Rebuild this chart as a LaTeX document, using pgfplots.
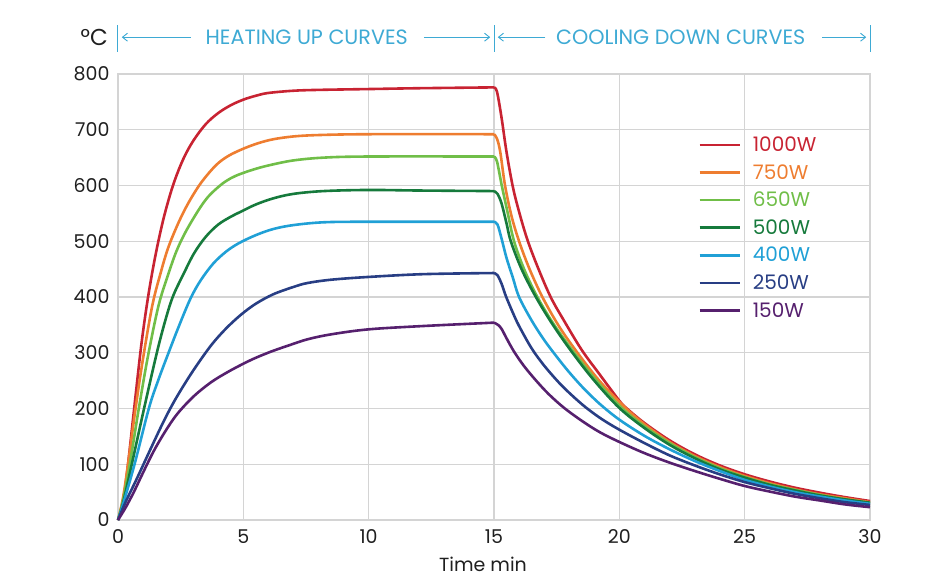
\documentclass[border=0pt]{standalone}
\usepackage{fontspec}
\setmainfont{Poppins}
\usepackage{pgfplots}
\pgfplotsset{compat=1.18}
\usetikzlibrary{arrows.meta}
\definecolor{gridc}{RGB}{212,212,212}
\definecolor{hdr}{RGB}{62,170,212}
\definecolor{cA}{RGB}{200,35,50}
\definecolor{cB}{RGB}{238,125,48}
\definecolor{cC}{RGB}{112,190,72}
\definecolor{cD}{RGB}{22,122,60}
\definecolor{cE}{RGB}{32,160,214}
\definecolor{cF}{RGB}{40,62,132}
\definecolor{cG}{RGB}{86,32,110}
\begin{document}
\begin{tikzpicture}[x=1pt,y=1pt]
\path[use as bounding box] (-118,-62) rectangle (824,520);
\begin{axis}[
  at={(0,0)}, anchor=south west,
  scale only axis, width=752pt, height=446pt,
  xmin=0, xmax=30, ymin=0, ymax=800,
  xtick={0,5,...,30}, ytick={0,100,...,800},
  grid=major, major grid style={gridc, line width=1.3pt},
  axis line style={gridc, line width=1.3pt},
  tick style={draw=none},
  ticklabel style={font=\fontsize{19}{19}\selectfont, text=black!88},
  yticklabel style={xshift=-5pt},
  xticklabel style={yshift=-6pt},
  /pgf/number format/assume math mode=true,
  xlabel={Time min},
  xlabel style={font=\fontsize{19}{19}\selectfont, text=black!88, at={(rel axis cs:0.5,0)}, anchor=center, yshift=-44pt, xshift=-11pt},
  clip=false,
  every axis plot/.append style={line width=2.6pt, smooth, tension=0.55, line join=round},
  legend cell align=left,
  legend image code/.code={\draw[line width=2.6pt] (0pt,0pt) -- (40pt,0pt);},
  legend style={draw=none, fill=none, at={(axis cs:23.02,695)}, anchor=north west,
    font=\fontsize{20}{20}\selectfont, row sep=7.4pt, column sep=10pt},
]
% ---- heating (legend) ----
\addplot[cA] coordinates {(0,0)(0.2,30)(0.4,100)(0.65,202)(0.93,314)(1.2,400)(1.5,476)(1.83,543)(2.2,601)(2.6,647)(3.0,680)(3.5,710)(4.0,730)(4.5,744)(5.0,754)(5.5,761)(6.0,766)(7,770)(8,771.5)(10,773)(12,774.5)(15,776)};
\addlegendentry{\textcolor{cA}{1000W}}
\addplot[cB] coordinates {(0,0)(0.2,40)(0.4,100)(0.7,200)(1.0,290)(1.37,385)(1.7,443)(2.0,488)(2.4,532)(2.8,568)(3.3,604)(3.9,636)(4.4,653)(5.0,666)(5.6,676)(6.2,683)(7.0,688)(8,690.5)(10,692)(15,692)};
\addlegendentry{\textcolor{cB}{750W}}
\addplot[cC] coordinates {(0,0)(0.2,35)(0.47,100)(0.83,200)(1.2,295)(1.62,385)(2.0,440)(2.33,482)(2.7,517)(3.2,555)(3.6,580)(4.1,601)(4.5,613)(4.9,621)(5.5,630)(6.1,637)(7,645)(8.2,650)(10,652)(15,652)};
\addlegendentry{\textcolor{cC}{650W}}
\addplot[cD] coordinates {(0,0)(0.2,30)(0.55,100)(1.04,200)(1.55,300)(1.9,360)(2.2,402)(2.6,440)(3.03,478)(3.5,508)(4.0,530)(4.5,544)(4.9,553)(5.5,566)(6.2,577)(7,585)(8.2,590)(10,592)(12,591)(15,590)};
\addlegendentry{\textcolor{cD}{500W}}
\addplot[cE] coordinates {(0,0)(0.2,28)(0.66,100)(1.23,200)(1.6,250)(2.0,298)(2.45,350)(2.9,398)(3.3,430)(3.8,460)(4.3,481)(4.8,496)(5.5,511)(6.2,522)(7,529)(8.2,534)(10,535)(15,535)};
\addlegendentry{\textcolor{cE}{400W}}
\addplot[cF] coordinates {(0,0)(0.3,32)(0.76,75)(1.43,140)(1.9,184)(2.36,222)(3.0,268)(3.71,313)(4.3,343)(4.9,368)(5.5,388)(6.2,405)(7,418)(7.55,425)(8.5,431)(10,436)(12.2,441)(15,443)};
\addlegendentry{\textcolor{cF}{250W}}
\addplot[cG] coordinates {(0,0)(0.3,22)(0.63,50)(1.0,85)(1.43,124)(1.9,160)(2.36,190)(3.0,221)(3.71,247)(4.4,266)(5.03,281)(5.5,291)(6.1,302)(6.8,313)(7.55,324)(8.5,333)(10,342)(12.2,348)(15,354)};
\addlegendentry{\textcolor{cG}{150W}}
% ---- cooling ----
\addplot[cA, forget plot] coordinates {(15,776)(15.12,768)(15.3,722)(15.5,660)(15.75,598)(16.0,553)(16.33,503)(16.75,453)(17.26,400)(17.8,357)(18.5,305)(19.2,262)(20,214)(20.3,200)(21,174)(22,143)(23,118)(24,98)(25,82)(26,69)(27,58)(28,49)(29,41)(30,34)};
\addplot[cB, forget plot] coordinates {(15,692)(15.12,684)(15.25,660)(15.44,600)(15.7,545)(16.0,500)(16.4,452)(16.93,400)(17.6,347)(18.33,300)(19.2,250)(20.2,203)(21,172)(22,140)(23,115)(24,95)(25,79)(26,66)(27,55)(28,46)(29,39)(30,32)};
\addplot[cC, forget plot] coordinates {(15,652)(15.12,643)(15.31,600)(15.55,550)(15.8,500)(16.2,450)(16.73,400)(17.4,350)(18.2,300)(19.05,252)(20.05,203)(21,168)(22,138)(23,113)(24,93)(25,77)(26,64)(27,54)(28,45)(29,37)(30,31)};
\addplot[cD, forget plot] coordinates {(15,590)(15.14,585)(15.3,568)(15.5,532)(15.67,500)(16.1,450)(16.67,400)(17.35,350)(18.13,300)(19.0,250)(20.0,201)(21,165)(22,135)(23,111)(24,91)(25,76)(26,63)(27,53)(28,44)(29,37)(30,31)};
\addplot[cE, forget plot] coordinates {(15,535)(15.14,530)(15.3,505)(15.5,470)(15.75,435)(16.0,400)(16.5,358)(17.0,323)(17.5,293)(18.0,265)(18.6,235)(19.25,207)(20,180)(21,151)(22,127)(23,106)(24,88)(25,72)(26,60)(27,50)(28,42)(29,35)(30,29)};
\addplot[cF, forget plot] coordinates {(15,443)(15.14,439)(15.3,424)(15.47,402)(15.75,372)(16.0,348)(16.5,308)(17.0,277)(17.6,246)(18.1,224)(18.66,202)(19.3,181)(20,162)(21,138)(22,116)(23,98)(24,82)(25,68)(26,57)(27,47)(28,39)(29,32)(30,27)};
\addplot[cG, forget plot] coordinates {(15,354)(15.16,350)(15.3,343)(15.5,326)(15.8,302)(16.2,276)(16.7,249)(17.2,225)(17.8,201)(18.5,178)(19.2,158)(20,140)(21,120)(22,103)(23,88)(24,74)(25,61)(26,51)(27,42)(28,35)(29,28)(30,23)};
% header annotations
\node[font=\fontsize{23}{23}\selectfont, text=black!88] at (axis cs:-0.95,865) {°C};
\draw[hdr, line width=1pt] (axis cs:0,840) -- (axis cs:0,888);
\draw[hdr, line width=1pt] (axis cs:15,840) -- (axis cs:15,888);
\draw[hdr, line width=1pt] (axis cs:30,840) -- (axis cs:30,888);
\draw[hdr, line width=0.9pt, -{Straight Barb[length=5pt,width=8pt]}] (axis cs:2.9,866) -- (axis cs:0.15,866);
\draw[hdr, line width=0.9pt, -{Straight Barb[length=5pt,width=8pt]}] (axis cs:12.2,866) -- (axis cs:14.85,866);
\draw[hdr, line width=0.9pt, -{Straight Barb[length=5pt,width=8pt]}] (axis cs:17.05,866) -- (axis cs:15.15,866);
\draw[hdr, line width=0.9pt, -{Straight Barb[length=5pt,width=8pt]}] (axis cs:28.1,866) -- (axis cs:29.85,866);
\node[font=\fontsize{20.7}{20.7}\selectfont, text=hdr] at (axis cs:7.53,866) {HEATING UP CURVES};
\node[font=\fontsize{20.7}{20.7}\selectfont, text=hdr] at (axis cs:22.45,866) {COOLING DOWN CURVES};
\end{axis}
\end{tikzpicture}
\end{document}
